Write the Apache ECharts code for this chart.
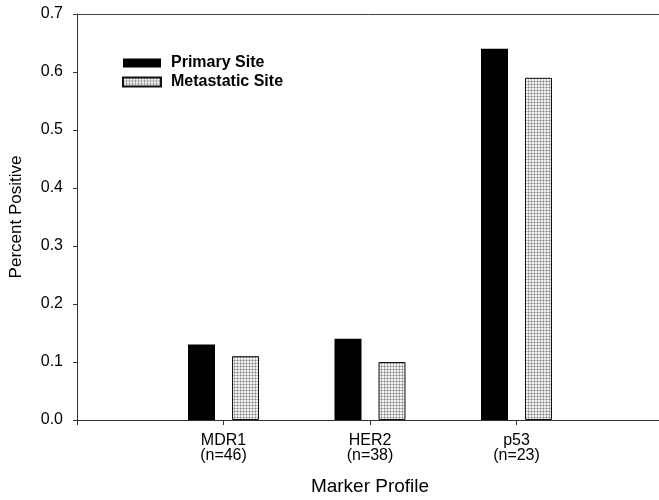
<!DOCTYPE html>
<html><head><meta charset="utf-8">
<script src="https://cdn.jsdelivr.net/npm/echarts@6/dist/echarts.min.js"></script>
<style>html,body{margin:0;padding:0;background:#fff}#c{width:659px;height:500px}</style>
</head><body><div id="c"></div>
<script>
const categories = ['MDR1\n(n=46)', 'HER2\n(n=38)', 'p53\n(n=23)'];
const primarySite = [0.13, 0.14, 0.64];
const metastaticSite = [0.11, 0.10, 0.59];
const yTicks = [0.0, 0.1, 0.2, 0.3, 0.4, 0.5, 0.6, 0.7];

// stipple pattern
const pc = document.createElement('canvas');
pc.width = 3; pc.height = 3;
const pctx = pc.getContext('2d');
pctx.fillStyle = '#f0f0f0'; pctx.fillRect(0,0,3,3);
pctx.fillStyle = '#bdbdbd';
pctx.fillRect(0,0,3,1); pctx.fillRect(0,0,1,3);
pctx.fillStyle = '#7a7a7a';
pctx.fillRect(0,0,1,1);

const pad = a => [null].concat(a, [null]);
const xData = [''].concat(categories, ['']);
const chart = echarts.init(document.getElementById('c'), null, {renderer:'canvas'});
const font = 'Liberation Sans, Arial, sans-serif';
chart.setOption({
  animation: false,
  grid: {left: 77, top: 14, width: 586, height: 406, show: false, containLabel: false, outerBoundsMode: 'none'},
  legend: {
    orient: 'vertical', left: 122, top: 55, padding: 0, itemWidth: 38, itemHeight: 9, itemGap: 3, icon: 'rect',
    textStyle: {fontFamily: font, fontWeight: 'bold', fontSize: 16, color: '#000', padding: [0, 0, 0, 5]},
    data: ['Primary Site', 'Metastatic Site']
  },
  xAxis: [{
    type: 'category', boundaryGap: false,
    data: xData,
    axisLine: {lineStyle: {color: '#333'}},
    axisTick: {show: true, length: 5, interval: 0, lineStyle: {color: '#333'}},
    axisLabel: {interval: 0, fontFamily: font, fontSize: 16, color: '#000', lineHeight: 15, margin: 13},
    name: 'Marker Profile', nameLocation: 'middle', nameGap: 57,
    nameTextStyle: {fontFamily: font, fontSize: 19, color: '#000'}
  }, {
    type: 'category', boundaryGap: false, position: 'top',
    data: xData,
    axisLine: {show: true, lineStyle: {color: '#444'}},
    axisTick: {show: false}, axisLabel: {show: false}
  }],
  yAxis: {
    type: 'value', min: 0, max: 0.7, interval: 0.1,
    splitLine: {show: false},
    axisLine: {show: true, lineStyle: {color: '#333'}},
    axisTick: {show: true, length: 4, lineStyle: {color: '#333'}},
    axisLabel: {fontFamily: font, fontSize: 16, color: '#000', margin: 14,
      formatter: v => (yTicks.find(t => Math.abs(t - v) < 1e-9) ?? v).toFixed(1)},
    name: 'Percent Positive', nameLocation: 'middle', nameGap: 52, nameRotate: 90,
    nameTextStyle: {fontFamily: font, fontSize: 17, color: '#000'}
  },
  series: [
    {name: 'Primary Site', type: 'bar', xAxisIndex: 0, data: pad(primarySite), barWidth: 27, barGap: '63%',
     itemStyle: {color: '#000'}},
    {name: 'Metastatic Site', type: 'bar', xAxisIndex: 0, data: pad(metastaticSite), barWidth: 27,
     itemStyle: {color: {image: pc, repeat: 'repeat'}, borderColor: '#111', borderWidth: 1}}
  ]
});
</script></body></html>
